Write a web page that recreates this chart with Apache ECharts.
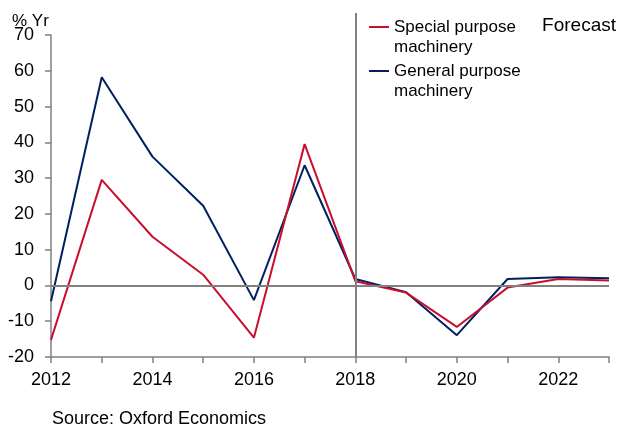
<!DOCTYPE html>
<html>
<head>
<meta charset="utf-8">
<script src="https://cdn.jsdelivr.net/npm/echarts@6/dist/echarts.min.js"></script>
<style>
html,body{margin:0;padding:0;background:#fff;}
#main{width:619px;height:428px;}
</style>
</head>
<body>
<div id="main"></div>
<script>
var years = ['2012','2013','2014','2015','2016','2017','2018','2019','2020','2021','2022','2023'];
var specialPurpose = [-15.2, 29.5, 13.6, 3.0, -14.6, 39.5, 1.2, -2.0, -11.6, -0.6, 1.8, 1.4];
var generalPurpose = [-4.4, 58.2, 36.0, 22.3, -4.1, 33.6, 1.8, -1.9, -13.9, 1.8, 2.3, 2.0];
var yTicks = [-20, -10, 0, 10, 20, 30, 40, 50, 60, 70];
var forecastStart = '2018';

var FONT = '"Liberation Sans", Arial, sans-serif';
var RED = '#c8102e';
var NAVY = '#002060';
var GREY = '#808080';

// blank first line so the legend line sits beside the first text line
var legendNames = {
	'Special purpose machinery' : ' \nSpecial purpose\nmachinery',
	'General purpose machinery' : ' \nGeneral purpose\nmachinery'
};

var myChart = echarts.init(document.getElementById('main'));
var option = {
	animation : false,
	backgroundColor : '#fff',
	title : [ {
		text : '% Yr',
		left : 7,
		top : 8,
		textStyle : { fontFamily : FONT, fontSize : 17, fontWeight : 'normal', color : '#000' }
	}, {
		text : 'Forecast',
		right : -2,
		top : 11,
		textStyle : { fontFamily : FONT, fontSize : 19, fontWeight : 'normal', color : '#000' }
	}, {
		text : 'Source: Oxford Economics',
		left : 47,
		top : 405,
		textStyle : { fontFamily : FONT, fontSize : 18, fontWeight : 'normal', color : '#000' }
	} ],
	legend : {
		orient : 'vertical',
		left : 364,
		top : -8,
		icon : 'rect',
		itemWidth : 20,
		itemHeight : 2,
		itemGap : -16,
		formatter : function(name) {
			return legendNames[name];
		},
		textStyle : {
			fontFamily : FONT,
			fontSize : 17,
			color : '#000',
			lineHeight : 20
		},
		data : [ 'Special purpose machinery', 'General purpose machinery' ]
	},
	grid : [ {
		left : 51,
		right : 10,
		top : 35,
		bottom : 71
	}, {
		left : 51,
		right : 10,
		top : 13,
		bottom : 71
	} ],
	xAxis : [ {
		type : 'category',
		data : years,
		boundaryGap : false,
		axisLine : { onZero : false, lineStyle : { color : GREY, width : 1.5 } },
		axisTick : { show : true, interval : 0, length : 6, lineStyle : { color : GREY, width : 1.5 } },
		axisLabel : {
			interval : 1,
			margin : 14,
			fontFamily : FONT,
			fontSize : 18,
			color : '#000'
		},
		splitLine : { show : false }
	}, {
		type : 'category',
		gridIndex : 1,
		data : years,
		boundaryGap : false,
		show : false
	} ],
	yAxis : [ {
		type : 'value',
		min : yTicks[0],
		max : yTicks[yTicks.length - 1],
		interval : 10,
		axisLine : { show : true, lineStyle : { color : GREY, width : 1.5 } },
		axisTick : { show : true, length : 6, lineStyle : { color : GREY, width : 1.5 } },
		axisLabel : {
			margin : 17,
			fontFamily : FONT,
			fontSize : 18,
			color : '#000'
		},
		splitLine : { show : false }
	}, {
		type : 'value',
		gridIndex : 1,
		min : yTicks[0],
		max : yTicks[yTicks.length - 1],
		show : false
	} ],
	series : [ {
		name : 'Special purpose machinery',
		type : 'line',
		data : specialPurpose,
		symbol : 'none',
		lineStyle : { color : RED, width : 2 },
		itemStyle : { color : RED },
		z : 3,
		markLine : {
			silent : true,
			symbol : 'none',
			label : { show : false },
			lineStyle : { color : GREY, type : 'solid', width : 2 },
			data : [ { yAxis : 0 } ]
		}
	}, {
		name : 'General purpose machinery',
		type : 'line',
		data : generalPurpose,
		symbol : 'none',
		lineStyle : { color : NAVY, width : 2 },
		itemStyle : { color : NAVY },
		z : 2
	}, {
		// forecast divider, drawn in a taller overlay grid so it reaches above 70
		name : 'forecast',
		type : 'line',
		xAxisIndex : 1,
		yAxisIndex : 1,
		data : [],
		markLine : {
			silent : true,
			symbol : 'none',
			label : { show : false },
			lineStyle : { color : GREY, type : 'solid', width : 2 },
			data : [ { xAxis : forecastStart } ]
		}
	} ]
};
myChart.setOption(option);
</script>
</body>
</html>
